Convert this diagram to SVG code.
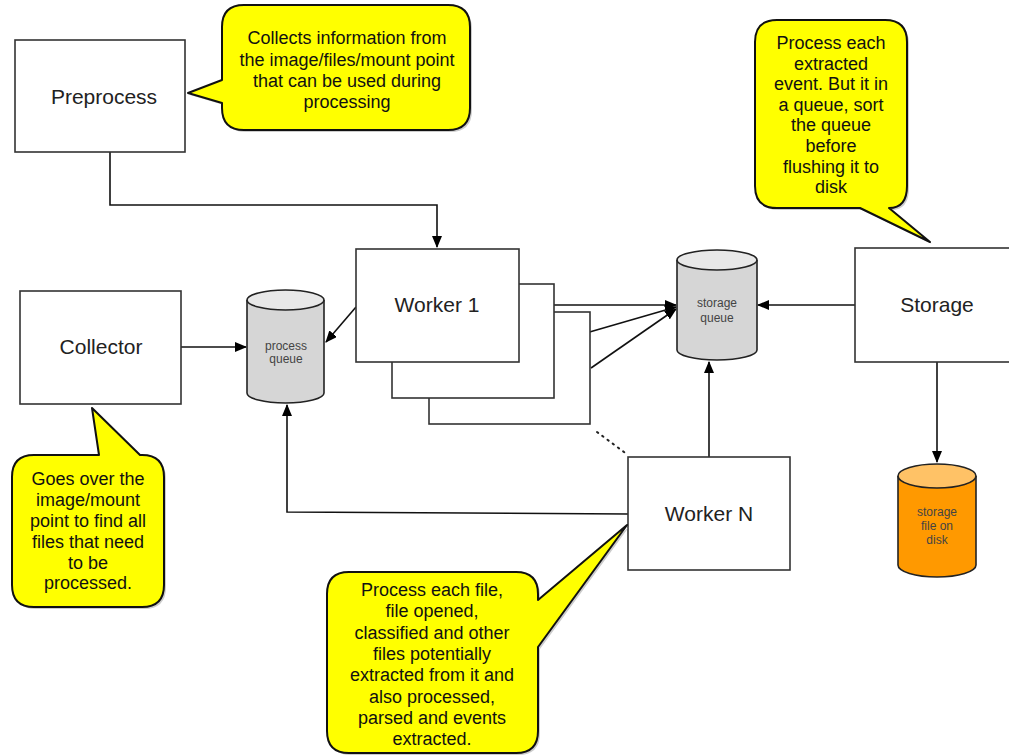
<svg xmlns="http://www.w3.org/2000/svg" width="1009" height="756" viewBox="0 0 1009 756">
<style>
.box{fill:#fff;stroke:#333;stroke-width:1.6}
.lbl{font-family:"Liberation Sans",Arial,sans-serif;fill:#222;text-anchor:middle}
.big{font-size:21px}
.note{font-size:18px;fill:#111}
.small{font-size:12px;fill:#444}
.call{fill:#ffff00;stroke:#111;stroke-width:2;stroke-linejoin:round}
.shadow{fill:#999;opacity:0.5}
.con{fill:none;stroke:#111;stroke-width:1.6}
.cylb{stroke:#222;stroke-width:1.6}
</style>
<defs>
<marker id="ah" viewBox="0 0 12 10" refX="11" refY="5" markerWidth="12" markerHeight="10" markerUnits="userSpaceOnUse" orient="auto">
<path d="M0,0 L12,5 L0,10 Z" fill="#000"/>
</marker>
</defs>
<rect width="1009" height="756" fill="#fff"/>

<g id="connectors">
<path class="con" d="M110,152 V205 H437 V247" marker-end="url(#ah)"/>
<path class="con" d="M181,347 H246" marker-end="url(#ah)"/>
<path class="con" d="M356,307 L326,342" marker-end="url(#ah)"/>
<path class="con" d="M519,305 H676" marker-end="url(#ah)"/>
<path class="con" d="M555,342 L676,307" marker-end="url(#ah)"/>
<path class="con" d="M591,368 L676,309" marker-end="url(#ah)"/>
<path class="con" d="M709,457 V362" marker-end="url(#ah)"/>
<path class="con" d="M855,305 H758" marker-end="url(#ah)"/>
<path class="con" d="M628,514 L287,512 V405" marker-end="url(#ah)"/>
<path class="con" d="M937,362 V462" marker-end="url(#ah)"/>
<path d="M597,432 L628,455" fill="none" stroke="#222" stroke-width="2" stroke-dasharray="1.5,5" stroke-linecap="round"/>
</g>

<g id="preprocess">
<rect class="box" x="15" y="40" width="170" height="112"/>
<text class="lbl big" x="104" y="104">Preprocess</text>
</g>

<g id="collector">
<rect class="box" x="20" y="291" width="161" height="113"/>
<text class="lbl big" x="101" y="354">Collector</text>
</g>

<g id="worker-stack">
<rect class="box" x="429" y="312" width="161" height="112"/>
<rect class="box" x="392" y="284" width="162" height="114"/>
</g>

<g id="worker1">
<rect class="box" x="356" y="249" width="163" height="113"/>
<text class="lbl big" x="437" y="312">Worker 1</text>
</g>

<g id="workerN">
<rect class="box" x="628" y="457" width="162" height="113"/>
<text class="lbl big" x="709" y="521">Worker N</text>
</g>

<g id="storage">
<rect class="box" x="855" y="248" width="165" height="114"/>
<text class="lbl big" x="937" y="312">Storage</text>
</g>

<g id="process-queue">
<path class="cylb" d="M247,300 V393 A38.5,10 0 0 0 324,393 V300" fill="#d6d6d6"/>
<ellipse class="cylb" cx="285.5" cy="300" rx="38.5" ry="10" fill="#e8e8e8"/>
<text class="lbl small" x="286" y="350">process</text>
<text class="lbl small" x="286" y="363">queue</text>
</g>

<g id="storage-queue">
<path class="cylb" d="M677,260 V350 A40,10 0 0 0 757,350 V260" fill="#d6d6d6"/>
<ellipse class="cylb" cx="717" cy="260" rx="40" ry="10" fill="#e8e8e8"/>
<text class="lbl small" x="717" y="307">storage</text>
<text class="lbl small" x="717" y="322">queue</text>
</g>

<g id="storage-file">
<path class="cylb" d="M898,476 V565 A39,12 0 0 0 976,565 V476" fill="#ff9900"/>
<ellipse class="cylb" cx="937" cy="476" rx="39" ry="12" fill="#ffc266"/>
<text class="lbl small" x="937" y="516" fill="#333">storage</text>
<text class="lbl small" x="937" y="530" fill="#333">file on</text>
<text class="lbl small" x="937" y="544" fill="#333">disk</text>
</g>

<g id="note-preprocess">
<path class="shadow" transform="translate(2,2)" d="M244,5 H448 Q470,5 470,27 V108 Q470,130 448,130 H244 Q222,130 222,108 V103 L188,93 L222,80 V27 Q222,5 244,5 Z"/>
<path class="call" d="M244,5 H448 Q470,5 470,27 V108 Q470,130 448,130 H244 Q222,130 222,108 V103 L188,93 L222,80 V27 Q222,5 244,5 Z"/>
<text class="lbl note" x="347" y="44">Collects information from</text>
<text class="lbl note" x="347" y="65.5">the image/files/mount point</text>
<text class="lbl note" x="347" y="87">that can be used during</text>
<text class="lbl note" x="347" y="108">processing</text>
</g>

<g id="note-storage">
<path class="shadow" transform="translate(2,2)" d="M777,20 H885 Q907,20 907,42 V186 Q907,208 889,208 L930,242 L860,208 H777 Q755,208 755,186 V42 Q755,20 777,20 Z"/>
<path class="call" d="M777,20 H885 Q907,20 907,42 V186 Q907,208 889,208 L930,242 L860,208 H777 Q755,208 755,186 V42 Q755,20 777,20 Z"/>
<text class="lbl note" x="831" y="49">Process each</text>
<text class="lbl note" x="831" y="69.5">extracted</text>
<text class="lbl note" x="831" y="90">event. But it in</text>
<text class="lbl note" x="831" y="110.5">a queue, sort</text>
<text class="lbl note" x="831" y="131">the queue</text>
<text class="lbl note" x="831" y="152">before</text>
<text class="lbl note" x="831" y="173">flushing it to</text>
<text class="lbl note" x="831" y="193">disk</text>
</g>

<g id="note-collector">
<path class="shadow" transform="translate(2,2)" d="M34,455 H99 L92,408 L140,455 H142 Q164,455 164,477 V585 Q164,607 142,607 H34 Q12,607 12,585 V477 Q12,455 34,455 Z"/>
<path class="call" d="M34,455 H99 L92,408 L140,455 H142 Q164,455 164,477 V585 Q164,607 142,607 H34 Q12,607 12,585 V477 Q12,455 34,455 Z"/>
<text class="lbl note" x="88" y="485">Goes over the</text>
<text class="lbl note" x="88" y="506">image/mount</text>
<text class="lbl note" x="88" y="527">point to find all</text>
<text class="lbl note" x="88" y="548">files that need</text>
<text class="lbl note" x="88" y="569">to be</text>
<text class="lbl note" x="88" y="589">processed.</text>
</g>

<g id="note-worker">
<path class="shadow" transform="translate(2,2)" d="M349,572 H516 Q538,572 538,594 V600 L627,525 L538,647 V731 Q538,753 516,753 H349 Q327,753 327,731 V594 Q327,572 349,572 Z"/>
<path class="call" d="M349,572 H516 Q538,572 538,594 V600 L627,525 L538,647 V731 Q538,753 516,753 H349 Q327,753 327,731 V594 Q327,572 349,572 Z"/>
<text class="lbl note" x="432" y="596">Process each file,</text>
<text class="lbl note" x="432" y="617">file opened,</text>
<text class="lbl note" x="432" y="639">classified and other</text>
<text class="lbl note" x="432" y="660">files potentially</text>
<text class="lbl note" x="432" y="681">extracted from it and</text>
<text class="lbl note" x="432" y="703">also processed,</text>
<text class="lbl note" x="432" y="724">parsed and events</text>
<text class="lbl note" x="432" y="745">extracted.</text>
</g>
</svg>
